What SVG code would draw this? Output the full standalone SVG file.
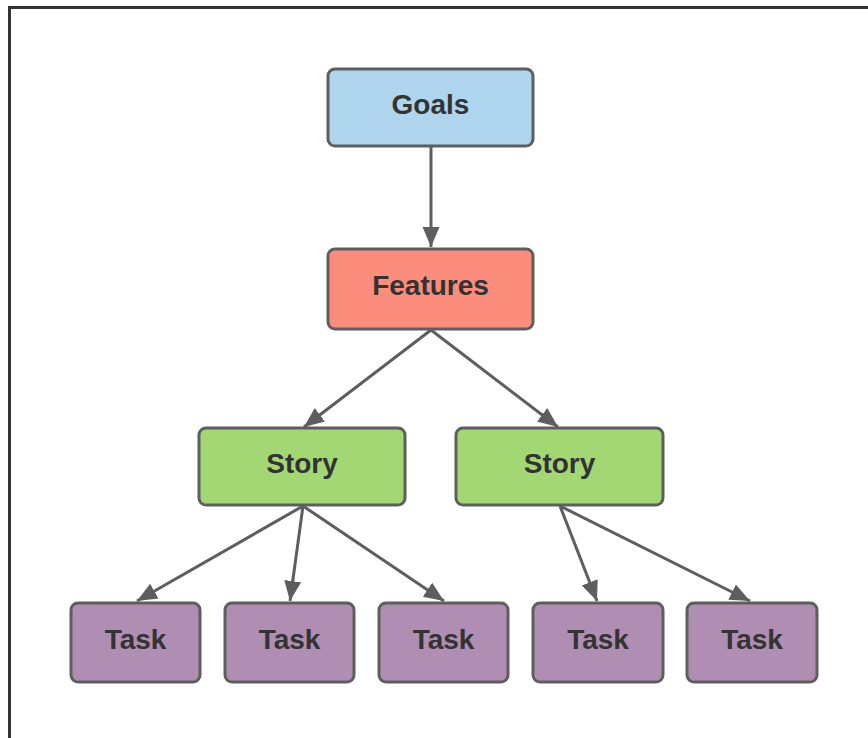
<svg xmlns="http://www.w3.org/2000/svg" width="868" height="738" viewBox="0 0 868 738">
  <style>
    .box { stroke: #5e5e5e; stroke-width: 3; }
    .goal { fill: #aed4ee; }
    .feature { fill: #fc8c7b; }
    .story { fill: #a2d774; }
    .task { fill: #b08db3; }
    .label { font-family: "Liberation Sans", Arial, sans-serif; font-weight: bold; font-size: 28px; fill: #333333; text-anchor: middle; }
    .edge { stroke: #5e5e5e; stroke-width: 3; fill: none; marker-end: url(#arrow); }
  </style>
  <defs>
    <marker id="arrow" markerUnits="userSpaceOnUse" markerWidth="21" markerHeight="19" viewBox="0 0 21 19" refX="20" refY="9.5" orient="auto">
      <path d="M0,1 L20,9.5 L0,18 Z" fill="#5e5e5e"/>
    </marker>
  </defs>

  <rect width="868" height="738" fill="#ffffff"/>
  <!-- page frame -->
  <path d="M9.5,738 V7.5 H868" fill="none" stroke="#333333" stroke-width="3"/>

  <g id="connectors">
    <line class="edge" x1="431" y1="147" x2="431" y2="247"/>
    <line class="edge" x1="431" y1="330" x2="304" y2="427"/>
    <line class="edge" x1="431" y1="330" x2="558" y2="427"/>
    <line class="edge" x1="303" y1="506" x2="137" y2="601"/>
    <line class="edge" x1="303" y1="506" x2="290" y2="601"/>
    <line class="edge" x1="303" y1="506" x2="444" y2="601"/>
    <line class="edge" x1="560" y1="506" x2="597" y2="601"/>
    <line class="edge" x1="560" y1="506" x2="750" y2="601"/>
  </g>

  <g id="goals">
    <rect class="box goal" x="328" y="69" width="205" height="77" rx="7"/>
    <text class="label" x="430.5" y="114">Goals</text>
  </g>
  <g id="features">
    <rect class="box feature" x="328" y="249" width="205" height="80" rx="7"/>
    <text class="label" x="430.5" y="295">Features</text>
  </g>
  <g id="story-1">
    <rect class="box story" x="199" y="428" width="206" height="77" rx="7"/>
    <text class="label" x="302" y="473">Story</text>
  </g>
  <g id="story-2">
    <rect class="box story" x="456" y="428" width="207" height="77" rx="7"/>
    <text class="label" x="559.5" y="473">Story</text>
  </g>
  <g id="task-1">
    <rect class="box task" x="71" y="603" width="129" height="79" rx="7"/>
    <text class="label" x="135.5" y="649">Task</text>
  </g>
  <g id="task-2">
    <rect class="box task" x="225" y="603" width="129" height="79" rx="7"/>
    <text class="label" x="289.5" y="649">Task</text>
  </g>
  <g id="task-3">
    <rect class="box task" x="379" y="603" width="129" height="79" rx="7"/>
    <text class="label" x="443.5" y="649">Task</text>
  </g>
  <g id="task-4">
    <rect class="box task" x="533" y="603" width="130" height="79" rx="7"/>
    <text class="label" x="598" y="649">Task</text>
  </g>
  <g id="task-5">
    <rect class="box task" x="687" y="603" width="130" height="79" rx="7"/>
    <text class="label" x="752" y="649">Task</text>
  </g>
</svg>
